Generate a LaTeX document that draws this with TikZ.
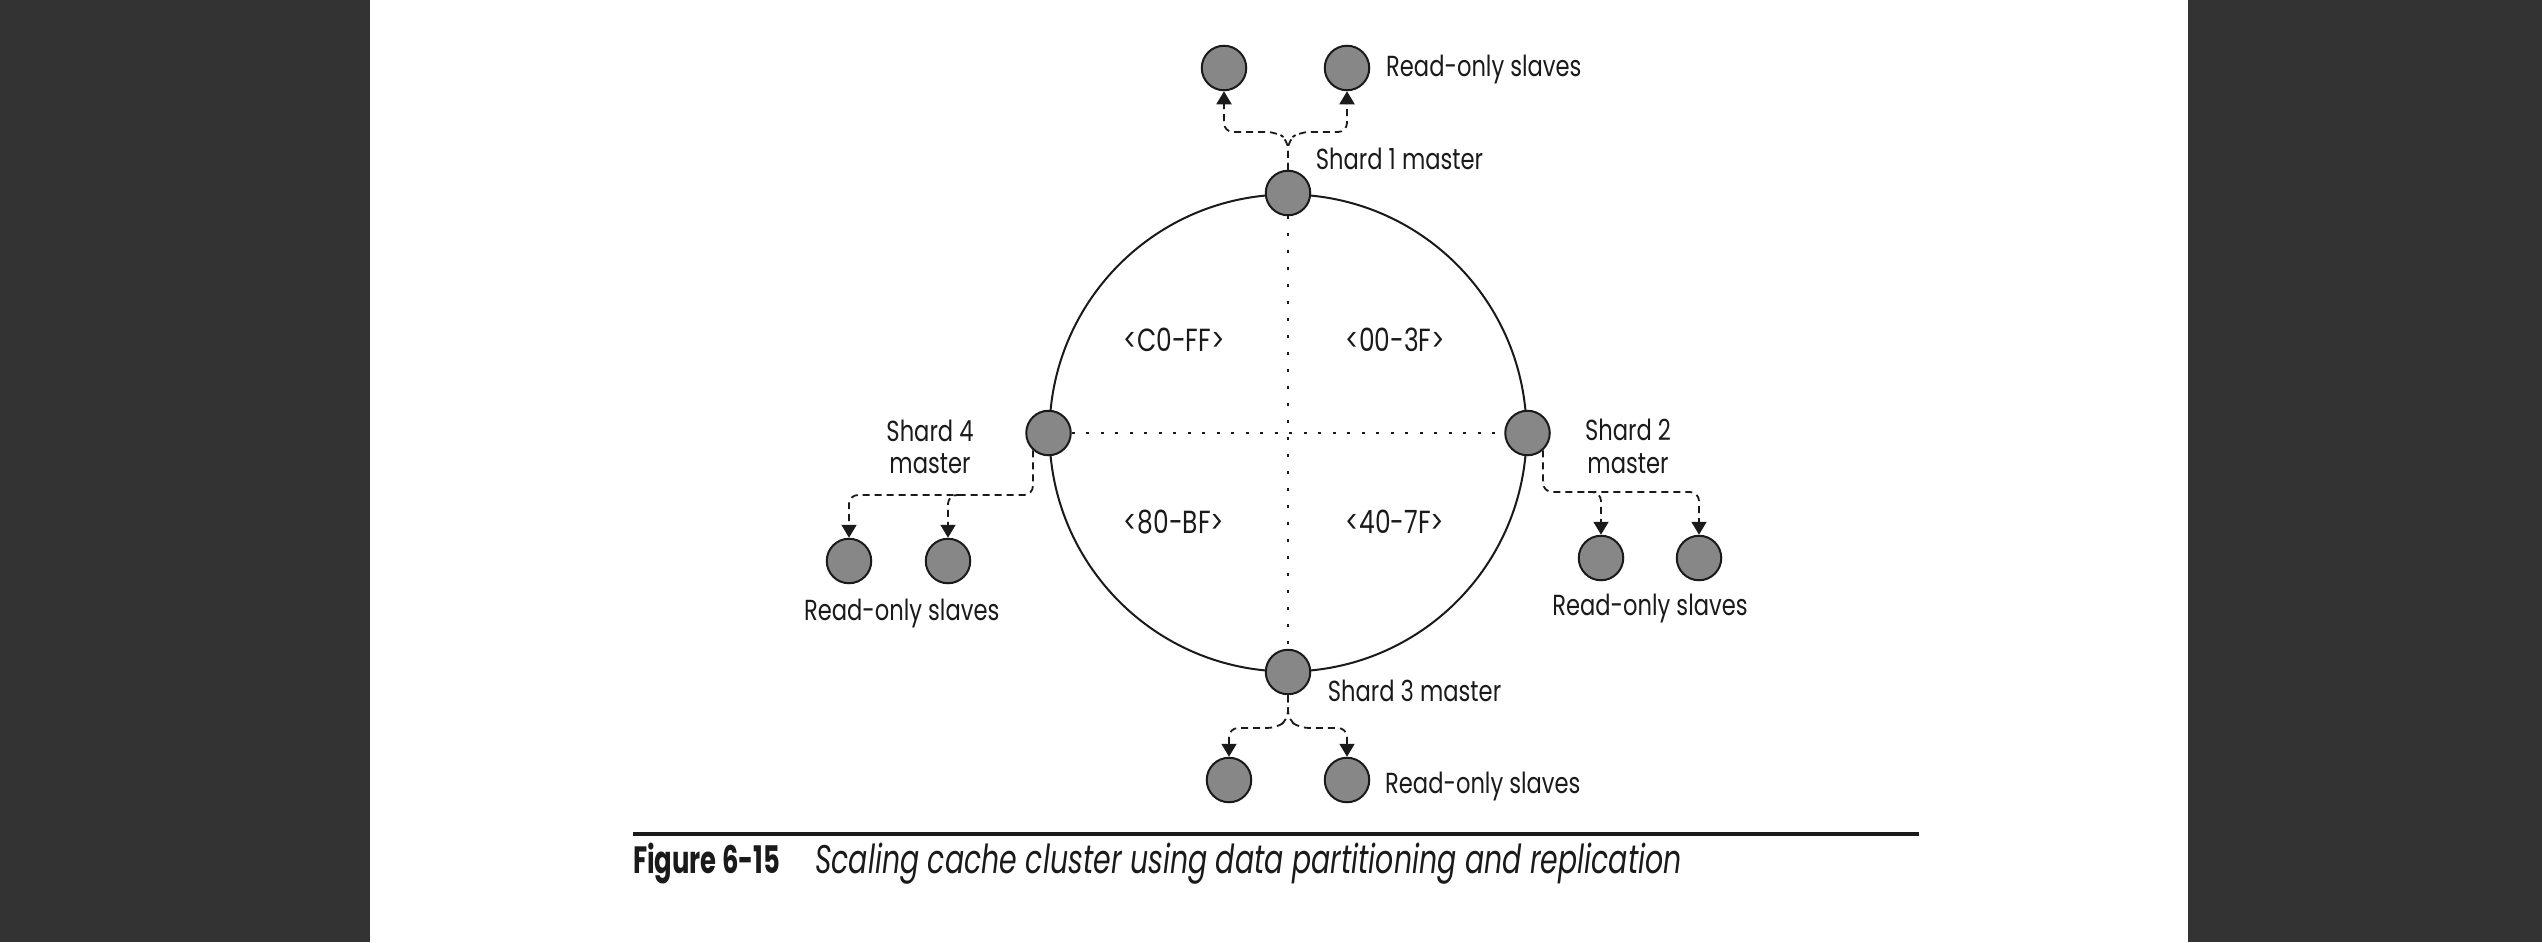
\documentclass[tikz,border=0pt]{standalone}
\usepackage{fontspec}
\setmainfont{Poppins}
\newfontfamily\dfont{Poppins}[FakeStretch=0.78]
\newfontfamily\cbf{Poppins}[FakeStretch=0.68]
\newfontfamily\cit{Poppins}[FakeStretch=0.71]
\usetikzlibrary{arrows.meta}
\definecolor{bar}{HTML}{333333}
\definecolor{ink}{HTML}{1A1A1A}
\definecolor{nodegray}{HTML}{878787}
\begin{document}
\begin{tikzpicture}[x=1pt,y=-1pt,
  master/.style={circle,draw=ink,fill=nodegray,line width=2pt,minimum size=44.5pt,inner sep=0pt},
  slave/.style={master},
  conn/.style={draw=ink,line width=1.8pt,dash pattern=on 7pt off 5pt,rounded corners=9pt,-{Triangle[width=15pt,length=13pt]}},
  lbl/.style={font=\dfont\fontsize{29}{32}\selectfont,text=ink,inner sep=0pt},
  qlbl/.style={font=\dfont\fontsize{32}{34}\selectfont,text=ink,inner sep=0pt},
  dotv/.style={draw=ink,line width=2pt,dash pattern=on 3pt off 14pt},
  doth/.style={draw=ink,line width=2pt,dash pattern=on 3pt off 11.5pt},
]
\useasboundingbox (0,0) rectangle (2542,942);
\fill[white] (0,0) rectangle (2542,942);
\fill[bar] (0,0) rectangle (370,942);
\fill[bar] (2188,0) rectangle (2542,942);

% ring
\coordinate (C) at (1288,433);
\draw[ink,line width=2pt] (C) circle (238.5);

% masters
\node[master] (S1) at (1288,193) {};
\node[master] (S2) at (1527.5,433) {};
\node[master] (S3) at (1288,672) {};
\node[master] (S4) at (1048.5,433) {};

% dotted partitions
\draw[dotv] (S1) -- (S3);
\draw[doth] (S4) -- (S2);

% slaves
\node[slave] (T1) at (1224,68) {};
\node[slave] (T2) at (1347,68) {};
\node[slave] (R1) at (1601,558) {};
\node[slave] (R2) at (1699,558) {};
\node[slave] (B1) at (1229,780) {};
\node[slave] (B2) at (1347,780) {};
\node[slave] (L1) at (849,561) {};
\node[slave] (L2) at (948,561) {};

% connectors top
\coordinate (t0) at (1288,140);
\draw[conn] (S1.north) -- (t0) -- ++(-12,-8) -| (T1.south);
\draw[conn] (S1.north) -- (t0) -- ++(12,-8) -| (T2.south);
% bottom
\coordinate (b0) at (1288,720);
\draw[conn] (S3.south) -- (b0) -- ++(-12,8) -| (B1.north);
\draw[conn] (S3.south) -- (b0) -- ++(12,8) -| (B2.north);
% right
\coordinate (rh) at (1699,492);
\coordinate (rj) at (1588,492);
\draw[conn] (S2.-48) |- (rh) -- (R2.north);
\draw[conn] (rj) -| (R1.north);
% left
\coordinate (lh) at (849,495);
\coordinate (lj) at (961,495);
\draw[conn] (S4.-132) |- (lh) -- (L1.north);
\draw[conn] (lj) -| (L2.north);

% labels
\node[lbl,anchor=base west] (tR) at (1386,76.7) {Read-only slaves};
\node[lbl,anchor=base west] (s1l) at (1315.7,169.5) {Shard 1 master};
\node[lbl,anchor=base west] (s3l) at (1327.7,701.7) {Shard 3 master};
\node[lbl,anchor=base west] (bR) at (1385,793) {Read-only slaves};
\node[lbl,anchor=base] (s4a) at (930,441) {Shard 4};
\node[lbl,anchor=base] (s4b) at (930,473.3) {master};
\node[lbl,anchor=base] (s2a) at (1628,440) {Shard 2};
\node[lbl,anchor=base] (s2b) at (1628,473) {master};
\node[lbl,anchor=base] (lR) at (901.7,620.7) {Read-only slaves};
\node[lbl,anchor=base] (rR) at (1650,615) {Read-only slaves};

\node[qlbl,anchor=base] (q1) at (1174,351.7) {<C0-FF>};
\node[qlbl,anchor=base] (q2) at (1395,351.7) {<00-3F>};
\node[qlbl,anchor=base] (q3) at (1174,533.3) {<80-BF>};
\node[qlbl,anchor=base] (q4) at (1395,533.3) {<40-7F>};

% caption
\coordinate (ru1) at (633,834);
\coordinate (ru2) at (1919,834);
\draw[ink,line width=4.5pt] (ru1) -- (ru2);
\node[anchor=base west,inner sep=0pt,text=ink,font=\cbf\bfseries\fontsize{38}{40}\selectfont] (fig) at (633,873.3) {Figure 6-15};
\node[anchor=base west,inner sep=0pt,text=ink,font=\cit\itshape\fontsize{40}{42}\selectfont] (cap) at (815,873.3) {Scaling cache cluster using data partitioning and replication};
\end{tikzpicture}
\end{document}
